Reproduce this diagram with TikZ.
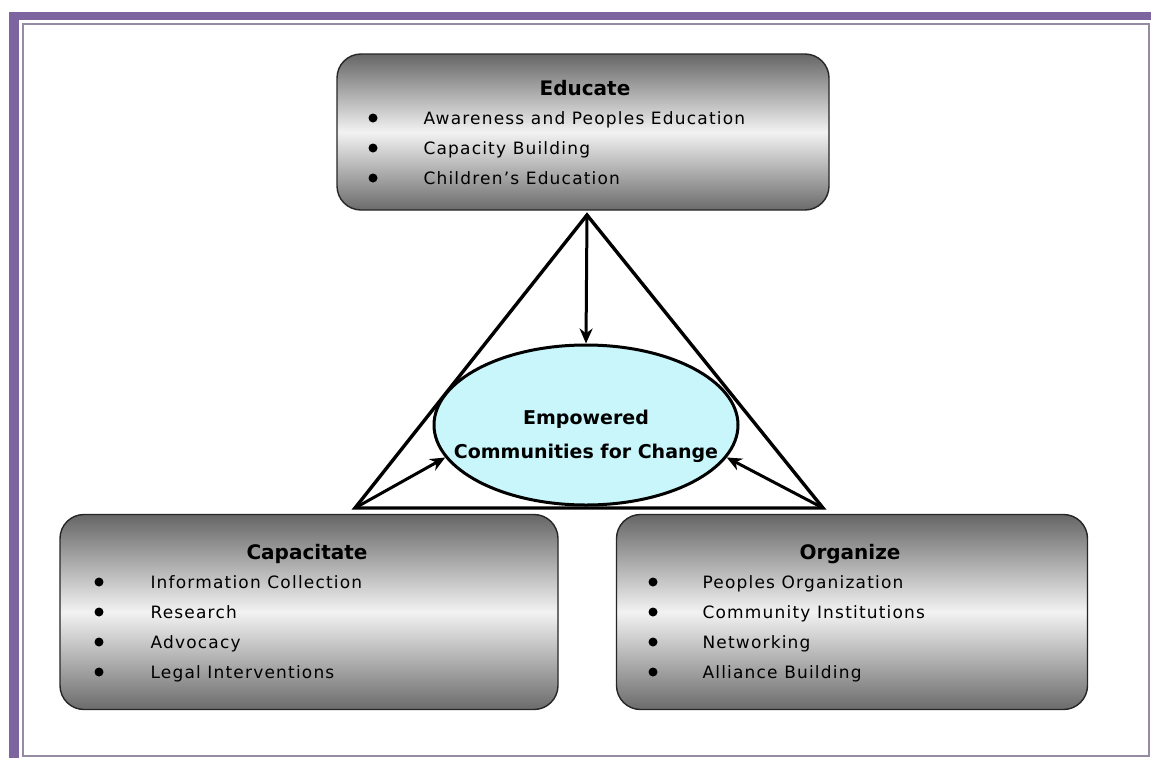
\documentclass[tikz,border=0pt]{standalone}
\usepackage{fontspec}
\setmainfont{DejaVu Sans}
\newfontfamily\itemfont[LetterSpace=7, Ligatures=TeX]{DejaVu Sans}
\usetikzlibrary{shapes.geometric, arrows.meta}

\definecolor{framepurple}{HTML}{7D65A0}
\definecolor{framegray}{HTML}{958CA3}
\definecolor{goalcyan}{HTML}{C8F6FA}

\tikzset{
    box/.style={rectangle, rounded corners=24pt, draw=black!85, line width=1.4pt,
        top color=black!60, bottom color=black!58, middle color=black!5, inner sep=0},
    title/.style={anchor=base, font=\bfseries\fontsize{20}{22}\selectfont},
    item/.style={anchor=base west, font=\itemfont\fontsize{17}{19}\selectfont},
    dot/.style={circle, fill=black, inner sep=0, minimum size=9pt},
    tri/.style={line width=3.4pt, line join=miter},
    arr/.style={line width=3pt, -{Stealth[length=15pt, width=13pt]}},
}

\begin{document}
\begin{tikzpicture}[x=1pt, y=-1pt]
    \useasboundingbox (0,0) rectangle (1151,758);
    \fill[white] (0,0) rectangle (1151,758);

    % page frame
    \fill[framepurple] (9,12) rectangle (1151,20);
    \fill[framepurple] (9,12) rectangle (19,758);
    \draw[framegray, line width=1.6pt] (23,24) rectangle (1149,756);

    % the three boxes
    \node[box, minimum width=492, minimum height=156] (educate) at (583,132) {};
    \node[box, minimum width=498, minimum height=195] (capacitate) at (309,612) {};
    \node[box, minimum width=471, minimum height=195] (organize) at (852,612) {};

    \node[title] (educatetitle) at (585,95) {Educate};
    \node[title] (capacitatetitle) at (307,559) {Capacitate};
    \node[title] (organizetitle) at (850,559) {Organize};

    \foreach \txt [count=\i] in {Awareness and Peoples Education, Capacity Building, Children’s Education} {
        \node[dot] (edot\i) at (373,88+30*\i) {};
        \node[item] (eitem\i) at (420,94+30*\i) {\txt};
    }
    \foreach \txt [count=\i] in {Information Collection, Research, Advocacy, Legal Interventions} {
        \node[dot] (cdot\i) at (99,552+30*\i) {};
        \node[item] (citem\i) at (147,558+30*\i) {\txt};
    }
    \foreach \txt [count=\i] in {Peoples Organization, Community Institutions, Networking, Alliance Building} {
        \node[dot] (odot\i) at (653,552+30*\i) {};
        \node[item] (oitem\i) at (699,558+30*\i) {\txt};
    }

    % triangle and the goal in its middle
    \coordinate (apex) at (587,215);
    \coordinate (left) at (355,508);
    \coordinate (right) at (823,508);
    \draw[tri] (apex) -- (left) -- (right) -- cycle;

    \node[ellipse, draw=black, line width=3pt, fill=goalcyan, inner sep=0,
        minimum width=304, minimum height=160] (goal) at (586,425) {};
    \node[align=center, font=\bfseries\fontsize{19}{34}\selectfont] (goaltext) at (586,436)
        {Empowered\\Communities for Change};

    \draw[arr] (apex) -- (goal.north);
    \draw[arr] (left) -- (goal.193);
    \draw[arr] (right) -- (goal.-13);
\end{tikzpicture}
\end{document}
